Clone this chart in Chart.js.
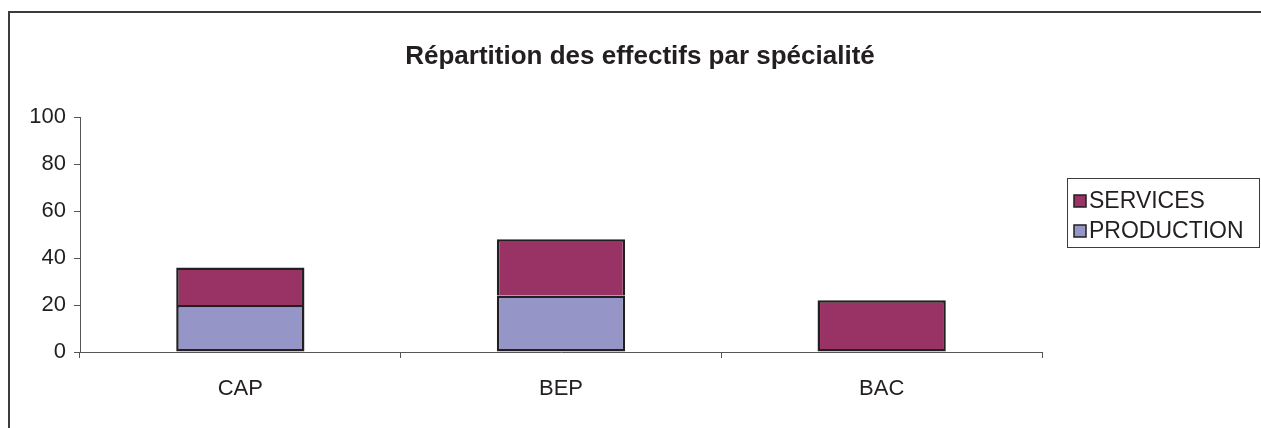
<!DOCTYPE html>
<html>
<head>
<meta charset="utf-8">
<script src="https://cdn.jsdelivr.net/npm/chart.js@4/dist/chart.umd.min.js"></script>
<style>
html,body{margin:0;padding:0;background:#fff;}
canvas{display:block;}
</style>
</head>
<body>
<canvas id="c" width="1261" height="428"></canvas>
<script>
const categories = ['CAP', 'BEP', 'BAC'];
const production = [20, 24, null];
const services = [16, 24, 22];
const seriesNames = ['PRODUCTION', 'SERVICES'];
const yTicks = [0, 20, 40, 60, 80, 100];
const titleText = 'Répartition des effectifs par spécialité';

const FONT = "'Liberation Sans', Arial, sans-serif";
const TXT = '#231f20';
const colProd = '#9595c8';
const colServ = '#993366';
const EDGE = '#231f20';

const framePlugin = {
  id: 'frame',
  beforeDraw(chart) {
    const ctx = chart.ctx;
    ctx.save();
    ctx.fillStyle = '#fff';
    ctx.fillRect(0, 0, chart.width, chart.height);
    ctx.strokeStyle = '#3c3c3c';
    ctx.lineWidth = 2;
    ctx.beginPath();
    ctx.moveTo(9, chart.height + 5);
    ctx.lineTo(9, 12);
    ctx.lineTo(chart.width + 5, 12);
    ctx.stroke();
    // title, centred on the whole page
    ctx.font = 'bold 26px ' + FONT;
    ctx.fillStyle = TXT;
    ctx.textAlign = 'center';
    ctx.textBaseline = 'middle';
    ctx.fillText(titleText, 640, 57);
    ctx.restore();
  }
};

const legendPlugin = {
  id: 'boxLegend',
  afterDraw(chart) {
    const ctx = chart.ctx;
    ctx.save();
    ctx.strokeStyle = '#3c3c3c';
    ctx.lineWidth = 1;
    ctx.strokeRect(1067.5, 178.5, 192, 69);
    const items = chart.data.datasets.slice().reverse();
    ctx.font = '23px ' + FONT;
    ctx.textBaseline = 'middle';
    items.forEach((ds, i) => {
      const cy = 201 + i * 30;
      ctx.fillStyle = ds.backgroundColor;
      ctx.fillRect(1074, cy - 6, 12, 12);
      ctx.strokeStyle = EDGE;
      ctx.lineWidth = 1.5;
      ctx.strokeRect(1074, cy - 6, 12, 12);
      ctx.fillStyle = TXT;
      ctx.textAlign = 'left';
      ctx.fillText(ds.label, 1089, cy + 1);
    });
    ctx.restore();
  }
};

new Chart(document.getElementById('c'), {
  type: 'bar',
  data: {
    labels: categories,
    datasets: [
      { label: seriesNames[0], data: production, backgroundColor: colProd, borderColor: EDGE, borderWidth: 2.5, borderSkipped: false },
      { label: seriesNames[1], data: services, backgroundColor: colServ, borderColor: EDGE, borderWidth: 2.5,
        borderSkipped: (c) => (production[c.dataIndex] ? 'bottom' : false) }
    ]
  },
  options: {
    responsive: false,
    animation: false,
    devicePixelRatio: 1,
    layout: { padding: { left: 0, right: 219, top: 117, bottom: 0 } },
    datasets: { bar: { barPercentage: 0.4, categoryPercentage: 1.0 } },
    plugins: {
      legend: { display: false },
      tooltip: { enabled: false },
      title: { display: false }
    },
    scales: {
      x: {
        stacked: true,
        grid: { drawOnChartArea: false, drawTicks: true, tickLength: 6, color: '#555', offset: true },
        border: { display: true, color: '#555', width: 1 },
        ticks: { color: TXT, font: { family: FONT, size: 22 }, padding: 18 },
        afterFit(scale) { scale.height = 76; }
      },
      y: {
        stacked: true,
        min: 0, max: 100,
        afterBuildTicks(scale) { scale.ticks = yTicks.map(v => ({ value: v })); },
        grid: { drawOnChartArea: false, drawTicks: true, tickLength: 6, color: '#555' },
        border: { display: true, color: '#555', width: 1 },
        ticks: { color: TXT, font: { family: FONT, size: 22 }, padding: 8 },
        afterFit(scale) { scale.width = 80; }
      }
    }
  },
  plugins: [framePlugin, legendPlugin]
});
</script>
</body>
</html>
